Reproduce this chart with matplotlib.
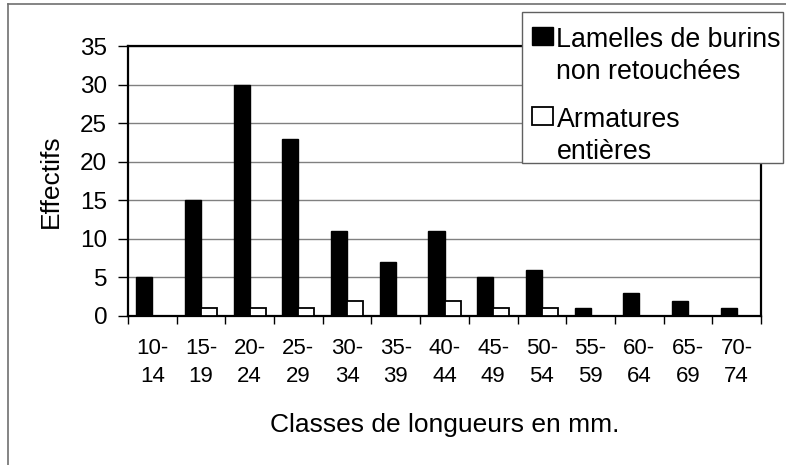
import matplotlib
matplotlib.use('Agg')
import matplotlib.pyplot as plt
import numpy as np
from matplotlib.lines import Line2D
from matplotlib.patches import Patch, Rectangle

plt.rcParams['font.family'] = ['Liberation Sans', 'DejaVu Sans']

# ── Data ───────────────────────────────────────────────────
classes = ["10-\n14", "15-\n19", "20-\n24", "25-\n29", "30-\n34", "35-\n39", "40-\n44",
           "45-\n49", "50-\n54", "55-\n59", "60-\n64", "65-\n69", "70-\n74"]
lamelles = [5, 15, 30, 23, 11, 7, 11, 5, 6, 1, 3, 2, 1]
armatures = [0, 1, 1, 1, 2, 0, 2, 1, 1, 0, 0, 0, 0]
yticks = [0, 5, 10, 15, 20, 25, 30, 35]
legend_labels = ["Lamelles de burins\nnon retouchées", "Armatures\nentières"]

W, H = 786, 465
fig = plt.figure(figsize=(W / 100, H / 100), dpi=100)
ax = fig.add_axes([128 / W, 1 - 316 / H, (761 - 128) / W, (316 - 46) / H])

x = np.arange(len(classes))
bw = 0.33
ax.bar(x - bw / 2, lamelles, bw, color='black', edgecolor='black', linewidth=1, zorder=3)
ax.bar(x + bw / 2, armatures, bw, color='white', edgecolor='black', linewidth=1.3, zorder=3)

ax.set_xlim(-0.5, len(classes) - 0.5)
ax.set_ylim(0, 35)
ax.set_yticks(yticks)
ax.yaxis.grid(True, color='#808080', linewidth=1)
ax.set_axisbelow(True)

ax.set_xticks(x)
ax.set_xticklabels(classes)
ax.set_xticks(np.arange(-0.5, len(classes)), minor=True)
ax.tick_params(axis='x', which='major', length=0, pad=16, labelsize=16)
ax.tick_params(axis='x', which='minor', length=6, width=1, direction='out')
ax.tick_params(axis='y', length=7, width=1, pad=8, labelsize=17.5)
for t in ax.get_xticklabels():
    t.set_linespacing(1.4)

for s in ax.spines.values():
    s.set_linewidth(1.6)

ax.set_xlabel("Classes de longueurs en mm.", fontsize=19, labelpad=19)
ax.set_ylabel("Effectifs", fontsize=19, labelpad=12)

# ── Legend (frame drawn separately to get the scan's padding) ──
fig.add_artist(Rectangle((522 / W, 1 - 163 / H), 261 / W, 151 / H, transform=fig.transFigure,
                         facecolor='white', edgecolor='#606060', linewidth=1, zorder=9))
handles = [Patch(facecolor='black', edgecolor='black'),
           Patch(facecolor='white', edgecolor='black', linewidth=1.3)]
leg = fig.legend(handles, legend_labels,
                 loc='upper right', bbox_to_anchor=(781 / W, 1 - 27 / H),
                 fontsize=19.3, frameon=False, borderpad=0, handlelength=0.8,
                 handleheight=0.64, handletextpad=0.12, labelspacing=0.82, borderaxespad=0)
leg.set_zorder(10)
for t in leg.get_texts():
    t.set_linespacing(1.31)
# put the square next to the first line of each label
for col in leg._legend_handle_box.get_children():
    for item in col.get_children():
        item.align = 'top'

# outer chart-area border (left and top visible in the scan)
fig.add_artist(Line2D([8 / W, 8 / W], [0, 1 - 4 / H], color='#707070', linewidth=1.2))
fig.add_artist(Line2D([8 / W, 1], [1 - 4 / H, 1 - 4 / H], color='#707070', linewidth=1.2))

fig.savefig("out.png", dpi=100)
